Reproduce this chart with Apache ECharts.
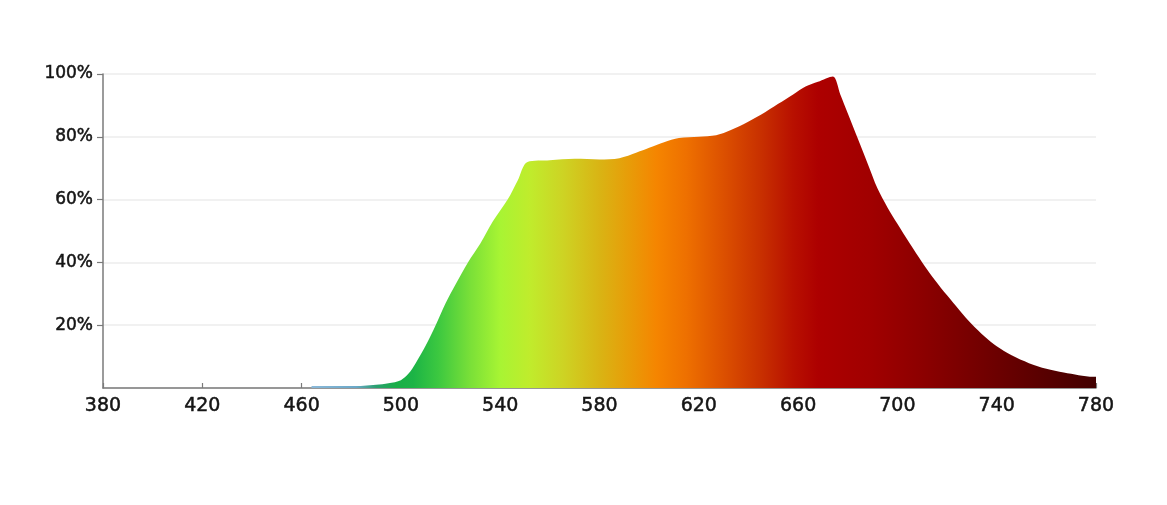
<!DOCTYPE html>
<html>
<head>
<meta charset="utf-8">
<script src="https://cdn.jsdelivr.net/npm/echarts@6/dist/echarts.min.js"></script>
<style>
    html, body { margin: 0; padding: 0; background: #fff; }
    #spectrum-chart { width: 1167px; height: 505px; }
</style>
</head>
<body>
<div id="spectrum-chart"></div>
<script>
    // 波长 (nm) 与相对强度 (%)
    var wavelengths = [464, 470, 480, 485, 490, 495, 500, 503, 506, 510, 514, 518, 522, 527, 532, 537, 543, 547, 551,
        560, 570, 580, 588, 595, 600, 606, 612, 620, 627, 631, 638, 645, 652, 658, 663, 668, 674,
        677, 680, 684, 688, 692, 696, 700, 705, 710, 715, 720, 725, 730, 735, 740, 746, 753, 760, 767, 773, 779, 780];
    var intensity = [0.6, 0.6, 0.6, 0.7, 1.0, 1.5, 2.5, 4.5, 8, 13.5, 20, 27, 33, 40, 46, 53, 60, 66, 72,
        72.5, 73, 72.8, 73.2, 75, 76.5, 78.3, 79.6, 80, 80.5, 81.5, 84, 87, 90.5, 93.5, 96, 97.5, 99.2,
        93.5, 87.5, 79.5, 71.5, 63.5, 57.5, 52.3, 46, 40, 34.5, 29.5, 24.8, 20.3, 16.5, 13.3, 10.4, 7.9, 6.1, 4.9, 4.1, 3.6, 3.6];

    // 渐变色标 (按波长)
    var stopNm = [464, 482, 490, 498, 505, 515, 528, 540, 552, 565, 580, 592, 603, 615, 630, 645, 658, 668, 690, 710, 740, 780];
    var stopColor = ['#8ab8d8', '#6aa8c8', '#2aa070', '#1aae48', '#1cb446', '#3cc840', '#7ae038', '#a8f433', '#c0ec2c',
        '#cdd424', '#d9b414', '#e89c08', '#f58500', '#ee7000', '#dc5000', '#c83000', '#b81000', '#ad0000',
        '#a00000', '#8c0000', '#6c0000', '#420000'];

    var xTicks = { min: 380, max: 780, interval: 40 };
    var yTicks = { min: 0, max: 100, interval: 20 };

    var first = wavelengths[0], last = wavelengths[wavelengths.length - 1];
    var colorStops = stopNm.map(function (nm, i) {
        return { offset: (nm - first) / (last - first), color: stopColor[i] };
    });

    var labelStyle = {
        color: '#151515', fontFamily: 'DejaVu Sans',
        textBorderColor: '#151515', textBorderWidth: 0.5
    };

    var myEcharts = echarts.init(document.getElementById('spectrum-chart'));
    myEcharts.setOption({
        animation: false,
        backgroundColor: '#fff',
        grid: { left: 103, right: 71, top: 74, bottom: 117 },
        xAxis: {
            type: 'value',
            min: xTicks.min,
            max: xTicks.max,
            interval: xTicks.interval,
            axisLine: { lineStyle: { color: '#7a7a7a', width: 1.5 } },
            axisTick: { show: true, inside: true, length: 5, lineStyle: { color: '#7a7a7a', width: 1.2 } },
            axisLabel: Object.assign({ margin: 9, fontSize: 19 }, labelStyle),
            splitLine: { show: false }
        },
        yAxis: {
            type: 'value',
            min: yTicks.min,
            max: yTicks.max,
            interval: yTicks.interval,
            axisLine: { show: true, lineStyle: { color: '#7a7a7a', width: 1.5 } },
            axisTick: { show: true, length: 6, lineStyle: { color: '#7a7a7a', width: 1.2 } },
            axisLabel: Object.assign({
                margin: 10, fontSize: 17,
                showMinLabel: false,
                formatter: '{value}%'
            }, labelStyle),
            splitLine: { show: true, lineStyle: { color: '#ececec', width: 1.5 } }
        },
        series: [{
            type: 'line',
            data: wavelengths.map(function (w, i) { return [w, intensity[i]]; }),
            showSymbol: false,
            smooth: 0.3,
            lineStyle: { width: 0 },
            areaStyle: {
                opacity: 1,
                color: new echarts.graphic.LinearGradient(0, 0, 1, 0, colorStops)
            }
        }]
    });
</script>
</body>
</html>
